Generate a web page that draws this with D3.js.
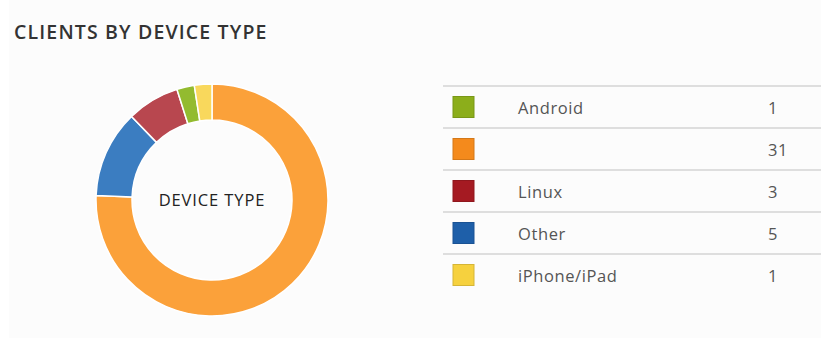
<!DOCTYPE html>
<meta charset="utf-8">
<script src="https://cdn.jsdelivr.net/npm/d3@7"></script>
<style>
body { margin: 0; background: #fff; }
svg { display: block; font-family: "Open Sans", sans-serif; }
.title { font-size: 19.5px; font-weight: 600; fill: #333; letter-spacing: 1.15px; }
.center { font-size: 16.5px; fill: #222; letter-spacing: 0.9px; }
.row-label, .row-value { font-size: 16.5px; fill: #555; letter-spacing: 0.6px; }
.row-line { stroke: #dedede; stroke-width: 2px; }
</style>
<div id="chart"></div>
<script>
var width = 821, height = 345;

var labels = ["Android", "", "Linux", "Other", "iPhone/iPad"];
var values = [1, 31, 3, 5, 1];
var swatchColors = ["#8cae1b", "#f48a1c", "#a51a22", "#1e5fa9", "#f6d13e"];
var ringColors   = ["#93bb2f", "#fba13a", "#b8474f", "#3b7dc1", "#f9d85c"];
// clockwise order of slices in the ring, starting at 12 o'clock
var ringOrder = [1, 3, 2, 0, 4];

var svg = d3.select("#chart").append("svg")
    .attr("width", width)
    .attr("height", height);

svg.append("rect")
    .attr("x", 9).attr("y", 0)
    .attr("width", width - 9).attr("height", 338)
    .attr("fill", "#fcfcfc");

svg.append("text")
    .attr("class", "title")
    .attr("x", 14).attr("y", 39)
    .text("CLIENTS BY DEVICE TYPE");

// donut
var pie = d3.pie().sort(null).value(function(i) { return values[i]; });
var arc = d3.arc().innerRadius(80).outerRadius(116);

var g = svg.append("g").attr("transform", "translate(212,200)");

g.selectAll("path")
    .data(pie(ringOrder))
  .enter().append("path")
    .attr("d", arc)
    .attr("fill", function(d) { return ringColors[d.data]; })
    .attr("stroke", "#fff")
    .attr("stroke-width", 1.5);

g.append("text")
    .attr("class", "center")
    .attr("text-anchor", "middle")
    .attr("dy", "0.35em")
    .text("DEVICE TYPE");

// legend table
var y = d3.scaleBand().domain(d3.range(labels.length)).range([86, 296]);

var rows = svg.selectAll(".row")
    .data(d3.range(labels.length))
  .enter().append("g")
    .attr("class", "row")
    .attr("transform", function(i) { return "translate(0," + y(i) + ")"; });

rows.append("line")
    .attr("class", "row-line")
    .attr("x1", 443).attr("x2", width)
    .attr("y1", 0).attr("y2", 0);

rows.append("rect")
    .attr("x", 453).attr("y", y.bandwidth() / 2 - 10.5)
    .attr("width", 21).attr("height", 21)
    .attr("fill", function(i) { return swatchColors[i]; })
    .attr("stroke", function(i) { return d3.color(swatchColors[i]).darker(0.4); })
    .attr("stroke-width", 1);

rows.append("text")
    .attr("class", "row-label")
    .attr("x", 518).attr("y", y.bandwidth() / 2 + 1.5)
    .attr("dy", "0.35em")
    .text(function(i) { return labels[i]; });

rows.append("text")
    .attr("class", "row-value")
    .attr("x", 768).attr("y", y.bandwidth() / 2 + 1.5)
    .attr("dy", "0.35em")
    .text(function(i) { return values[i]; });
</script>
